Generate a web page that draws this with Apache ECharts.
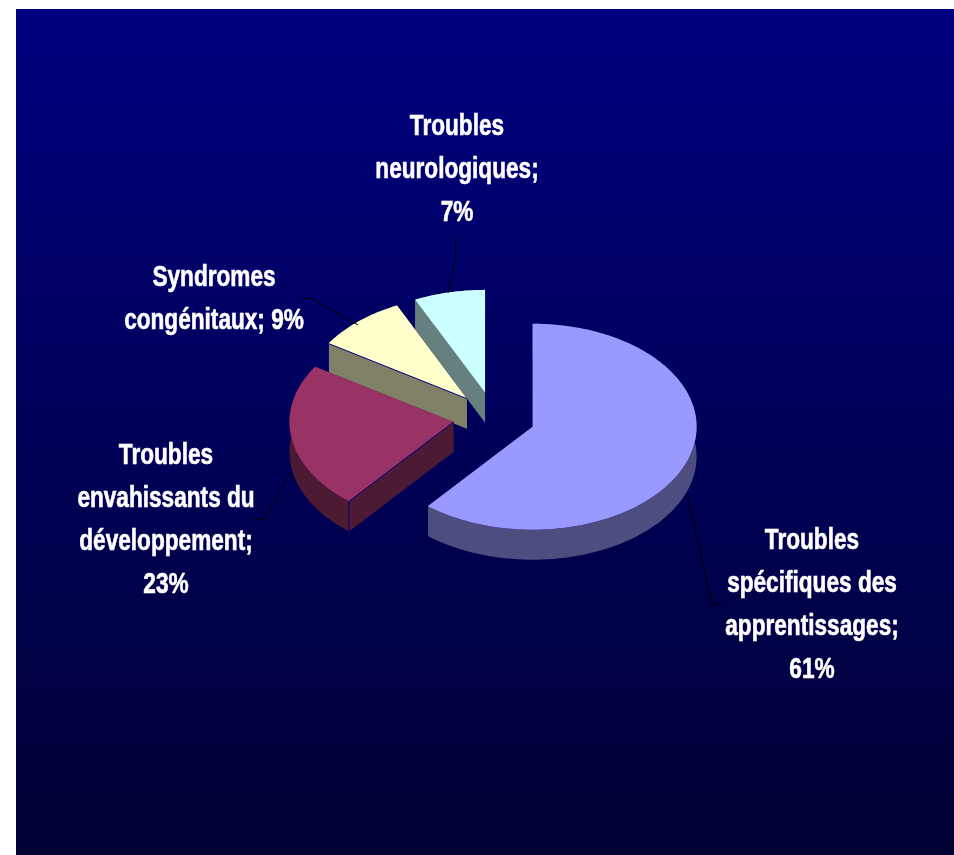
<!DOCTYPE html>
<html>
<head>
<meta charset="utf-8">
<style>
  html, body { margin: 0; padding: 0; background: #fff; }
  #chart { width: 954px; height: 855px; }
</style>
<script src="https://cdn.jsdelivr.net/npm/echarts@6/dist/echarts.min.js"></script>
</head>
<body>
<div id="chart"></div>
<script>
// values
var categories = [
  "Troubles spécifiques des apprentissages",
  "Troubles envahissants du développement",
  "Syndromes congénitaux",
  "Troubles neurologiques"
];
var percents = [61, 23, 9, 7];
var labelLines = [
  ["Troubles", "spécifiques des", "apprentissages;", "61%"],
  ["Troubles", "envahissants du", "développement;", "23%"],
  ["Syndromes", "congénitaux; 9%"],
  ["Troubles", "neurologiques;", "7%"]
];

// styling and layout
var topColors = ["#9999FF", "#993366", "#FFFFCC", "#CCFFFF"];
var wallColors = ["#4D4D80", "#4D1A33", "#808066", "#668080"];
var seamSlices = [false, true, true, false];
var labelCenters = [[812, 605], [166, 520], [214, 299], [457, 170]];
var leaders = [
  [[687, 494], [712, 604.5], [723, 604.5]],
  [[291, 472], [264, 519.5], [253, 519.5]],
  [[358, 325], [312, 298.5], [301, 298.5]],
  [[448, 293], [455, 260], [456, 238]]
];
var center = [494, 418];
var rx = 164;
var ry = 103;
var depth = 30;
var explode = 0.25;

var total = percents.reduce(function (a, b) { return a + b; }, 0);

function startAngle(idx) {
  var sum = 0;
  for (var i = 0; i < idx; i++) sum += percents[i];
  return (sum / total) * Math.PI * 2;
}

function pointAt(apex, a) {
  return [apex[0] + rx * Math.sin(a), apex[1] - ry * Math.cos(a)];
}

function dropped(p) {
  return [p[0], p[1] + depth];
}

function renderSlice(params, api) {
  var i = params.dataIndex;
  var a0 = startAngle(i);
  var a1 = a0 + (api.value(0) / total) * Math.PI * 2;
  var mid = (a0 + a1) / 2;
  var apex = [
    center[0] + rx * explode * Math.sin(mid),
    center[1] - ry * explode * Math.cos(mid)
  ];
  var arc = [];
  var steps = Math.ceil((a1 - a0) / 0.02);
  for (var s = 0; s <= steps; s++) {
    arc.push(pointAt(apex, a0 + ((a1 - a0) * s) / steps));
  }
  var first = arc[0];
  var last = arc[arc.length - 1];
  var z = 10 * (percents.length - i);
  var wallStyle = { fill: wallColors[i] };
  var children = [
    {
      type: "polygon",
      z2: z,
      shape: { points: arc.concat(arc.map(dropped).reverse()) },
      style: wallStyle
    },
    {
      type: "polygon",
      z2: z,
      shape: { points: [apex, first, dropped(first), dropped(apex)] },
      style: wallStyle
    },
    {
      type: "polygon",
      z2: z,
      shape: { points: [apex, last, dropped(last), dropped(apex)] },
      style: wallStyle
    },
    {
      type: "polygon",
      z2: z + 1,
      shape: { points: [apex].concat(arc) },
      style: { fill: topColors[i] }
    }
  ];
  if (seamSlices[i]) {
    children.push({
      type: "polyline",
      z2: z + 2,
      shape: { points: [apex, first, dropped(first)] },
      style: { fill: null, stroke: "#000080", lineWidth: 1 }
    });
  }
  return { type: "group", children: children };
}

function renderLabel(params, api) {
  var i = params.dataIndex;
  return {
    type: "group",
    children: [
      {
        type: "polyline",
        shape: { points: leaders[i] },
        style: { fill: null, stroke: "#000000", lineWidth: 1 },
        z2: 100
      },
      {
        type: "text",
        x: labelCenters[i][0],
        y: labelCenters[i][1],
        scaleX: 0.78,
        z2: 100,
        style: {
          text: labelLines[i].join("\n"),
          fill: "#FFFFFF",
          stroke: "#FFFFFF",
          lineWidth: 0.6,
          font: 'bold 29px "Liberation Sans", Arial, sans-serif',
          lineHeight: 43,
          align: "center",
          verticalAlign: "middle"
        }
      }
    ]
  };
}

var chart = echarts.init(document.getElementById("chart"), null, { renderer: "canvas" });
chart.setOption({
  animation: false,
  backgroundColor: "#FFFFFF",
  graphic: [
    {
      type: "rect",
      z: -10,
      shape: { x: 16, y: 9, width: 938, height: 846 },
      style: {
        fill: new echarts.graphic.LinearGradient(0, 0, 0, 1, [
          { offset: 0, color: "#000080" },
          { offset: 1, color: "#000033" }
        ])
      }
    }
  ],
  series: [
    {
      type: "custom",
      name: "slices",
      coordinateSystem: "none",
      renderItem: renderSlice,
      data: percents.map(function (v, i) { return { name: categories[i], value: [v] }; })
    },
    {
      type: "custom",
      name: "labels",
      coordinateSystem: "none",
      z: 5,
      renderItem: renderLabel,
      data: percents.map(function (v, i) { return { name: categories[i], value: [v] }; })
    }
  ]
});
</script>
</body>
</html>
